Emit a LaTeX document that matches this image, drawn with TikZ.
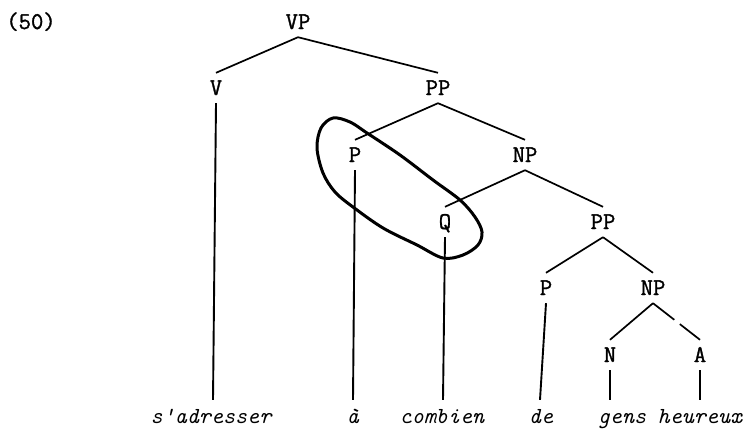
\documentclass[tikz,border=0pt]{standalone}
\usepackage{fontspec}
\newfontfamily\twfont{Latin Modern Mono}[AutoFakeBold=1.3]
\begin{document}
\begin{tikzpicture}[x=1pt,y=-1pt,
  lab/.style={inner xsep=0pt, inner ysep=8pt, text height=14pt, text depth=0pt, anchor=base,
    font=\fontsize{24}{28}\selectfont\twfont\bfseries},
  word/.style={inner sep=0pt, text height=23pt, text depth=6pt, anchor=base,
    font=\fontsize{23}{27}\selectfont\twfont\bfseries\itshape},
  br/.style={line width=1.7pt},
  vl/.style={line width=1.9pt},
  ring/.style={line width=3pt}]
\useasboundingbox (0,0) rectangle (744,429);
% labels
\node[lab] (ex) at (31,29) {(50)};
\node[lab] (VP) at (298,29) {VP};
\node[lab] (V) at (216,95) {V};
\node[lab] (PP) at (438,95) {PP};
\node[lab] (P) at (355,162) {P};
\node[lab] (NP) at (525,162) {NP};
\node[lab] (Q) at (445,229) {Q};
\node[lab] (PPb) at (603,229) {PP};
\node[lab] (Pb) at (546,295) {P};
\node[lab] (NPb) at (653,295) {NP};
\node[lab] (N) at (610,362) {N};
\node[lab] (A) at (700,362) {A};
% words
\node[word] (w1) at (211,423) {s\textquotesingle adresser};
\node[word] (w2) at (353,423) {à};
\node[word] (w3) at (442,423) {combien};
\node[word] (w4) at (541,423) {de};
\node[word] (w5) at (622,423) {gens};
\node[word] (w6) at (700,423) {heureux};
% branches
\draw[br] (VP.south) -- (V.north);
\draw[br] (VP.south) -- (PP.north);
\draw[br] (PP.south) -- (P.north);
\draw[br] (PP.south) -- (NP.north);
\draw[br] (NP.south) -- (Q.north);
\draw[br] (NP.south) -- (PPb.north);
\draw[br] (PPb.south) -- (Pb.north);
\draw[br] (PPb.south) -- (NPb.north);
\draw[br] (NPb.south) -- (N.north);
\draw[br, dash pattern=on 27pt off 7pt on 60pt] (NPb.south) -- (A.north);
% vertical lines to words
\draw[vl] (V.south) -- (w1.north -| 213,0);
\draw[vl] (P.south) -- (w2.north);
\draw[vl] (Q.south) -- (w3.north -| 443,0);
\draw[vl] (Pb.south) -- (w4.north -| 540,0);
\draw[vl] (N.south) -- (w5.north -| 610,0);
\draw[vl] (A.south) -- (w6.north);
% ring around P and Q
\draw[ring] plot[smooth cycle, tension=0.55] coordinates {
 (333,118) (350,122) (367,133) (400,155) (433,180) (460,200) (475,217) (482,232)
 (478,245) (463,255) (443,258) (417,245) (383,228) (353,207) (335,192) (323,173)
 (317,148) (321,128)};
\end{tikzpicture}
\end{document}
